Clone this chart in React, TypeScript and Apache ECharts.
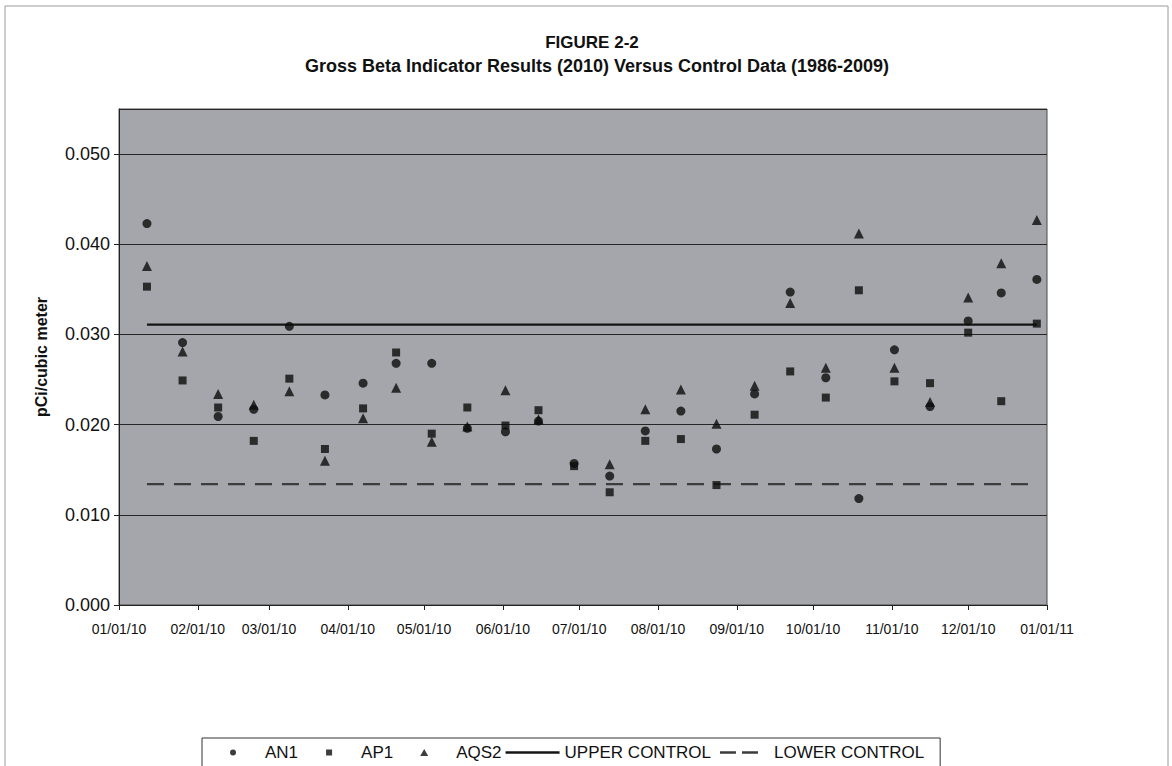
import React, { useEffect, useRef } from "react";
import * as echarts from "echarts";

// Sample dates (2010) and measured gross beta values (pCi/cubic meter)
const sampleDates = [
  "2010-01-12", "2010-01-26", "2010-02-09", "2010-02-23", "2010-03-09",
  "2010-03-23", "2010-04-07", "2010-04-20", "2010-05-04", "2010-05-18",
  "2010-06-02", "2010-06-15", "2010-06-29", "2010-07-13", "2010-07-27",
  "2010-08-10", "2010-08-24", "2010-09-08", "2010-09-22", "2010-10-06",
  "2010-10-19", "2010-11-02", "2010-11-16", "2010-12-01", "2010-12-14",
  "2010-12-28",
];

const an1Values = [
  0.0423, 0.0291, 0.0209, 0.0217, 0.0309, 0.0233, 0.0246, 0.0268, 0.0268, 0.0196,
  0.0192, 0.0204, 0.0157, 0.0143, 0.0193, 0.0215, 0.0173, 0.0234, 0.0347, 0.0252,
  0.0118, 0.0283, 0.0220, 0.0315, 0.0346, 0.0361,
];

const ap1Values = [
  0.0353, 0.0249, 0.0219, 0.0182, 0.0251, 0.0173, 0.0218, 0.0280, 0.0190, 0.0219,
  0.0199, 0.0216, 0.0154, 0.0125, 0.0182, 0.0184, 0.0133, 0.0211, 0.0259, 0.0230,
  0.0349, 0.0248, 0.0246, 0.0302, 0.0226, 0.0312,
];

const aqs2Values: (number | null)[] = [
  0.0376, 0.0281, 0.0234, 0.0222, 0.0237, 0.0160, 0.0207, 0.0241, 0.0181, 0.0198,
  0.0238, 0.0206, null, 0.0156, 0.0217, 0.0239, 0.0201, 0.0243, 0.0335, 0.0263,
  0.0412, 0.0263, 0.0225, 0.0341, 0.0379, 0.0427,
];

const upperControl = 0.0311;
const lowerControl = 0.0134;

const yMin = 0;
const yMax = 0.055;
const yInterval = 0.01;

// x-axis tick positions: first day of each month, 01/01/10 .. 01/01/11
const monthTickDates = [
  "2010-01-01", "2010-02-01", "2010-03-01", "2010-04-01", "2010-05-01",
  "2010-06-01", "2010-07-01", "2010-08-01", "2010-09-01", "2010-10-01",
  "2010-11-01", "2010-12-01", "2011-01-01",
];

const titleLine1 = "FIGURE 2-2";
const titleLine2 = "Gross Beta Indicator Results (2010) Versus Control Data (1986-2009)";
const yAxisName = "pCi/cubic meter";

const toTime = (s: string) => {
  const [y, m, d] = s.split("-").map(Number);
  return new Date(y, m - 1, d).getTime();
};
const pad = (n: number) => String(n).padStart(2, "0");
const fmtDate = (v: number) => {
  const d = new Date(v);
  return pad(d.getMonth() + 1) + "/" + pad(d.getDate()) + "/" + pad(d.getFullYear() % 100);
};

const toPoints = (vals: (number | null)[]) =>
  sampleDates
    .map((d, i) => [toTime(d), vals[i]] as [number, number | null])
    .filter((p) => p[1] !== null);

const FONT = '"Liberation Sans", Arial, sans-serif';
const INK = "#111111";

// legend key shapes: each spans the full 54px key box (tiny anchors at both ends)
const ANCHORS = " M0,3.5L0.01,3.5L0.01,3.51L0,3.51Z M53.99,3.5L54,3.5L54,3.51L53.99,3.51Z";
const ICON_CIRCLE = "path://M27,0.5A3,3,0,1,1,27,6.5A3,3,0,1,1,27,0.5Z" + ANCHORS;
const ICON_SQUARE = "path://M24,0.5L30,0.5L30,6.5L24,6.5Z" + ANCHORS;
const ICON_TRIANGLE = "path://M27,0L31,7L23,7Z" + ANCHORS;
const ICON_SOLID = "path://M0,2.2L54,2.2L54,4.8L0,4.8Z";
const ICON_DASHED = "path://M5,2.3L21,2.3L21,4.7L5,4.7Z M27,2.3L43,2.3L43,4.7L27,4.7Z" + ANCHORS;

export default function App() {
  const ref = useRef<HTMLDivElement>(null);

  useEffect(() => {
    if (!ref.current) return;
    const chart = echarts.init(ref.current, null, { renderer: "svg" });
    const monthTicks = monthTickDates.map(toTime);
    const first = toTime(sampleDates[0]);
    const last = toTime(sampleDates[sampleDates.length - 1]);

    chart.setOption({
      animation: false,
      backgroundColor: "#ffffff",
      textStyle: { fontFamily: FONT },
      graphic: [
        {
          type: "rect",
          z: -10,
          shape: { x: 5, y: 6, width: 1163, height: 800 },
          style: { fill: "none", stroke: "#9a9a9a", lineWidth: 1 },
        },
        {
          type: "text",
          x: 592,
          y: 42,
          style: {
            text: titleLine1,
            fontFamily: FONT,
            fontWeight: "bold",
            fontSize: 17,
            fill: INK,
            textAlign: "center",
            textVerticalAlign: "middle",
          },
        },
        {
          type: "text",
          x: 597,
          y: 66,
          style: {
            text: titleLine2,
            fontFamily: FONT,
            fontWeight: "bold",
            fontSize: 18,
            fill: INK,
            textAlign: "center",
            textVerticalAlign: "middle",
          },
        },
      ],
      grid: {
        left: 119,
        right: 125,
        top: 109,
        bottom: 161,
        show: true,
        backgroundColor: "#a4a6ac",
        borderColor: "#4a4a4a",
        borderWidth: 1,
      },
      legend: {
        left: 202,
        top: 738,
        orient: "horizontal",
        padding: [6, 16, 6, 4],
        borderColor: "#333",
        borderWidth: 1,
        itemWidth: 54,
        itemHeight: 7,
        itemGap: 4,
        textStyle: { fontFamily: FONT, fontSize: 17, color: INK },
        data: [
          { name: "AN1", icon: ICON_CIRCLE },
          { name: "AP1", icon: ICON_SQUARE },
          { name: "AQS2", icon: ICON_TRIANGLE },
          { name: "UPPER CONTROL", icon: ICON_SOLID },
          { name: "LOWER CONTROL", icon: ICON_DASHED },
        ],
      },
      xAxis: {
        type: "value",
        min: monthTicks[0],
        max: monthTicks[monthTicks.length - 1],
        axisLine: { show: true, lineStyle: { color: "#222", width: 1 } },
        axisTick: {
          show: true,
          customValues: monthTicks,
          length: 5,
          lineStyle: { color: "#222" },
        },
        axisLabel: {
          customValues: monthTicks,
          formatter: (v: number) => fmtDate(v),
          margin: 17,
          fontFamily: FONT,
          fontSize: 14,
          color: INK,
        },
        splitLine: { show: false },
      },
      yAxis: {
        type: "value",
        min: yMin,
        max: yMax,
        interval: yInterval,
        name: yAxisName,
        nameLocation: "middle",
        nameGap: 70,
        nameRotate: 90,
        nameTextStyle: { fontFamily: FONT, fontWeight: "bold", fontSize: 16, color: INK },
        axisLine: { show: true, lineStyle: { color: "#222" } },
        axisTick: { show: true, length: 5, lineStyle: { color: "#222" } },
        axisLabel: {
          showMaxLabel: false,
          formatter: (v: number) => v.toFixed(3),
          margin: 9,
          fontFamily: FONT,
          fontSize: 18,
          color: INK,
        },
        splitLine: { show: true, lineStyle: { color: "#262626", width: 1.2 } },
      },
      series: [
        {
          name: "UPPER CONTROL",
          type: "line",
          z: 1,
          symbol: "none",
          data: [
            [first, upperControl],
            [last, upperControl],
          ],
          lineStyle: { color: "#151515", width: 2.2 },
          itemStyle: { color: "#151515" },
        },
        {
          name: "LOWER CONTROL",
          type: "line",
          z: 1,
          symbol: "none",
          data: [
            [first, lowerControl],
            [last, lowerControl],
          ],
          lineStyle: { color: "#3c3c3c", width: 2.2, type: [17, 10] },
          itemStyle: { color: "#3c3c3c" },
        },
        {
          name: "AQS2",
          type: "scatter",
          z: 2,
          symbol: "triangle",
          symbolSize: 10,
          data: toPoints(aqs2Values),
          itemStyle: { color: "#0d0d0d" },
        },
        {
          name: "AP1",
          type: "scatter",
          z: 3,
          symbol: "rect",
          symbolSize: 8,
          data: toPoints(ap1Values),
          itemStyle: { color: "#0d0d0d" },
        },
        {
          name: "AN1",
          type: "scatter",
          z: 4,
          symbol: "circle",
          symbolSize: 9,
          data: toPoints(an1Values),
          itemStyle: { color: "#0d0d0d" },
        },
      ],
    });

    return () => chart.dispose();
  }, []);

  return (
    <div
      ref={ref}
      style={{ position: "fixed", left: 0, top: 0, width: 1172, height: 766, background: "#fff" }}
    />
  );
}
